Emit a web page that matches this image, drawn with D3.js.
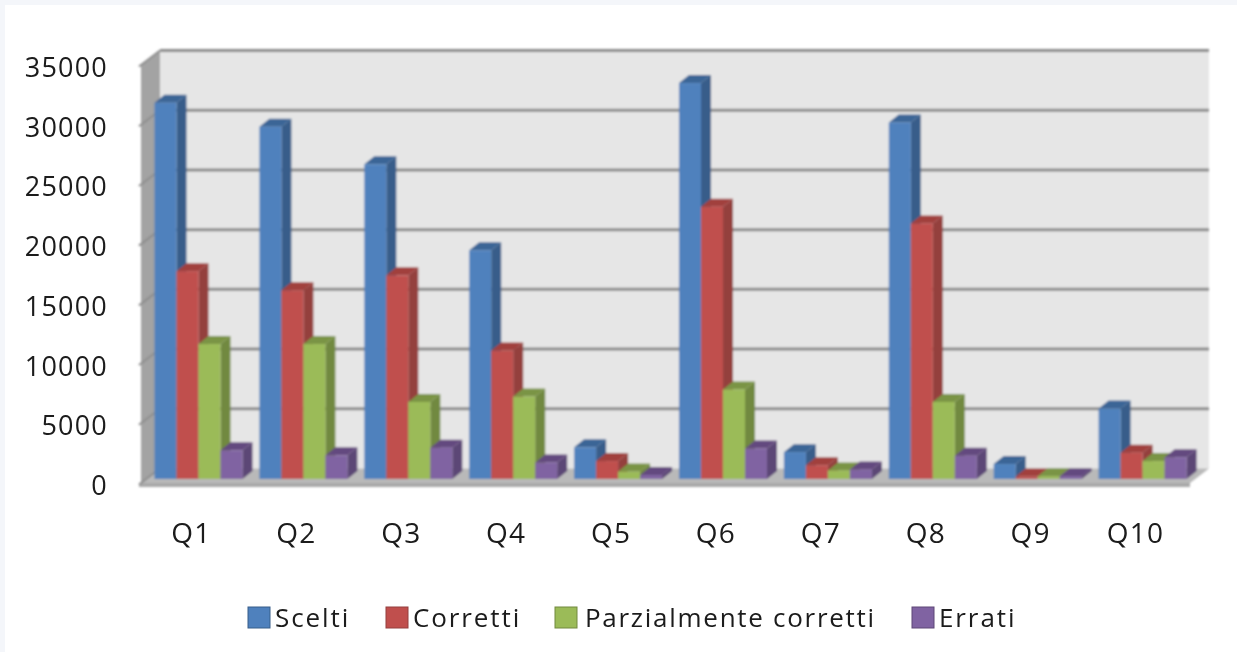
<!DOCTYPE html>
<html><head><meta charset="utf-8">
<style>html,body{margin:0;padding:0;background:#fff;overflow:hidden}svg{display:block}
text{font-family:"Open Sans",sans-serif;fill:#1a1a1a}</style>
<script src="https://cdn.jsdelivr.net/npm/d3@7/dist/d3.min.js"></script>
</head><body><svg id="c" width="1237" height="652"></svg>
<script>
const categories=["Q1","Q2","Q3","Q4","Q5","Q6","Q7","Q8","Q9","Q10"];
const seriesNames=["Scelti","Corretti","Parzialmente corretti","Errati"];
const scelti=[31500,29500,26350,19150,2650,33150,2250,29850,1250,5900];
const corretti=[17400,15800,17050,10750,1500,22800,1150,21400,200,2200];
const parziali=[11300,11300,6450,6900,620,7500,720,6450,230,1500];
const errati=[2400,1980,2620,1380,330,2550,800,1950,240,1820];
const yTicks=[0,5000,10000,15000,20000,25000,30000,35000];
const frontColors=["#4f81bd","#c0504d","#9bbb59","#8064a2"];
const sideColors=["#385d8a","#943f3c","#71893f","#5c4776"];
const topColors=["#3b6596","#a13f3c","#7a9445","#64497f"];
const seriesValues=[scelti,corretti,parziali,errati];

const svg=d3.select("#c");
svg.append("rect").attr("width",1237).attr("height",652).attr("fill","#f4f6fa");
svg.append("rect").attr("x",5).attr("y",5).attr("width",1232).attr("height",647).attr("fill","#fff");
const defs=svg.append("defs");
defs.append("filter").attr("id","soft").attr("x","-5%").attr("y","-5%").attr("width","110%").attr("height","110%")
  .append("feGaussianBlur").attr("stdDeviation",1);
defs.append("filter").attr("id","softT").attr("x","-5%").attr("y","-20%").attr("width","110%").attr("height","140%")
  .append("feGaussianBlur").attr("stdDeviation",0.5);

const x=d3.scaleBand().domain(categories).range([141,1190]);
const y=d3.scaleLinear().domain([0,35000]).range([483,65]);
const wallDx=19,wallDy=-14.5;
const barShiftY=-4,barDepthX=10,barDepthY=-8;
const inner=d3.scaleBand().domain(d3.range(4)).range([13.5,101.5]);
const pts=p=>"M"+p.map(d=>d.join(",")).join("L")+"Z";
const g=svg.append("g").attr("filter","url(#soft)");
const L=x.range()[0],R=x.range()[1];

// back wall, side wall, floor
g.append("path").attr("d",pts([[L+wallDx,y(35000)+wallDy],[R+wallDx,y(35000)+wallDy],[R+wallDx,y(0)+wallDy],[L+wallDx,y(0)+wallDy]])).attr("fill","#e6e6e6");
g.append("path").attr("d",pts([[L,y(35000)],[L+wallDx,y(35000)+wallDy],[L+wallDx,y(0)+wallDy],[L,y(0)]])).attr("fill","#a3a3a3");
g.append("path").attr("d",pts([[L,y(0)],[L+wallDx,y(0)+wallDy],[R+wallDx,y(0)+wallDy],[R,y(0)]])).attr("fill","#b9b9b9");
g.append("path").attr("d",pts([[L-2,y(0)],[R,y(0)],[R,y(0)+4],[L-2,y(0)+4]])).attr("fill","#a9a9a9");
// gridlines
g.selectAll("line.grid").data(yTicks.filter(d=>d>0)).join("line").attr("class","grid")
  .attr("x1",L+wallDx).attr("x2",R+wallDx).attr("y1",d=>y(d)+wallDy).attr("y2",d=>y(d)+wallDy)
  .attr("stroke","#8a8a8a").attr("stroke-width",3);
g.selectAll("line.side").data(yTicks).join("line").attr("class","side")
  .attr("x1",L-2).attr("x2",L+wallDx).attr("y1",d=>y(d)+1.5).attr("y2",d=>y(d)+wallDy)
  .attr("stroke","#8e8e8e").attr("stroke-width",2);

// bars (painted left to right)
categories.forEach((c,i)=>{
  seriesValues.forEach((vals,s)=>{
    const v=vals[i],x0=x(c)+inner(s),w=inner.bandwidth(),x1=x0+w;
    const b=y(0)+barShiftY,t=y(v)+barShiftY;
    const bar=g.append("g");
    bar.append("path").attr("d",pts([[x1,t],[x1+barDepthX,t+barDepthY],[x1+barDepthX,b+barDepthY],[x1,b]])).attr("fill",sideColors[s]);
    bar.append("path").attr("d",pts([[x0,t],[x0+barDepthX,t+barDepthY],[x1+barDepthX,t+barDepthY],[x1,t]])).attr("fill",topColors[s]);
    bar.append("rect").attr("x",x0).attr("y",t).attr("width",w).attr("height",b-t).attr("fill",frontColors[s]);
  });
});

// axes
const yAxis=svg.append("g").attr("transform","translate(108,2)").attr("filter","url(#softT)")
  .call(d3.axisLeft(y).tickValues(yTicks).tickSize(0).tickPadding(0).tickFormat(d3.format("d")));
yAxis.select(".domain").remove();
yAxis.selectAll("text").attr("font-size",27).attr("dy","0.35em").style("letter-spacing","1.2px").style("font-family",'"Open Sans",sans-serif').style("fill","#1a1a1a");
const xAxis=svg.append("g").attr("transform","translate(-2,533)").attr("filter","url(#softT)")
  .call(d3.axisBottom(x).tickSize(0).tickPadding(0));
xAxis.select(".domain").remove();
xAxis.selectAll("text").attr("font-size",28).attr("dy","0.35em").attr("y",0).style("letter-spacing","1.2px").style("font-family",'"Open Sans",sans-serif').style("fill","#1a1a1a");

// legend
const legendX=d3.scaleOrdinal().domain(seriesNames).range([248,386,555,912]);
const leg=svg.append("g").attr("filter","url(#softT)");
seriesNames.forEach((n,s)=>{
  leg.append("rect").attr("x",legendX(n)).attr("y",607).attr("width",22).attr("height",21).attr("fill",frontColors[s]).attr("stroke",sideColors[s]).attr("stroke-width",1);
  leg.append("text").attr("x",legendX(n)+(s===2?30:27)).attr("y",618).attr("dy","0.35em").attr("font-size",26).style("letter-spacing",s===2?"1.72px":"1.9px").text(n);
});
</script></body></html>
